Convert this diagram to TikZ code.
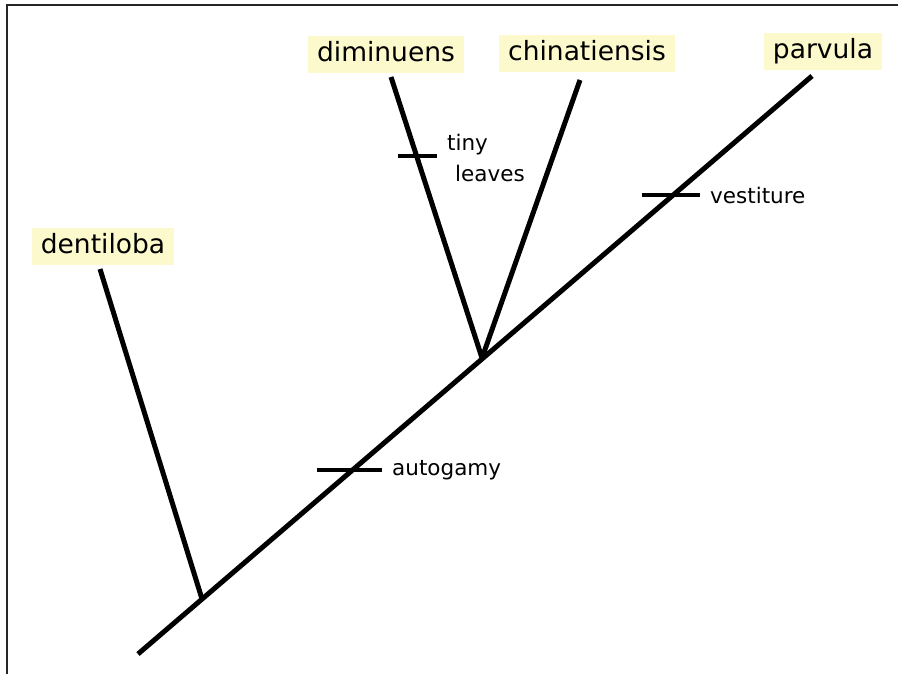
\documentclass[tikz,border=0pt]{standalone}
\usepackage{fontspec}
\setmainfont{DejaVu Sans}
\usetikzlibrary{positioning}
\definecolor{taxonfill}{HTML}{FCFACD}
\tikzset{
  taxon/.style={fill=taxonfill, font=\fontsize{26.5}{30}\selectfont, inner xsep=9pt, inner ysep=6pt, text height=19pt, text depth=6pt},
  branch/.style={line width=5pt},
  tickmark/.style={line width=4.5pt},
  trait/.style={font=\fontsize{21.5}{25}\selectfont, inner sep=0pt, anchor=west},
}

\begin{document}
\begin{tikzpicture}[x=1pt, y=-1pt]
                \useasboundingbox (0,0) rectangle (898,674);
                \draw[line width=2.2pt, black!85] (7,674) -- (7,5) -- (898,5);

                % taxa
                \node[taxon] (dentiloba) at (103,247) {dentiloba};
                \node[taxon] (diminuens) at (386,55) {diminuens};
                \node[taxon] (chinatiensis) at (587,54) {chinatiensis};
                \node[taxon] (parvula) at (823,52) {parvula};

                % branch ends and splits
                \coordinate (root) at (138,654);
                \coordinate (tipdent) at (100,269);
                \coordinate (tipdim) at (391,77);
                \coordinate (tipchin) at (580,80);
                \coordinate (tippar) at (812,76);
                \coordinate (splitdent) at (202,599);
                \coordinate (splitdim) at (482,358);

                \draw[branch] (root) -- (tippar);
                \draw[branch] (splitdent) -- (tipdent);
                \draw[branch] (splitdim) -- (tipdim);
                \draw[branch] (splitdim) -- (tipchin);

                % characters
                \draw[tickmark] (317,470) -- (382,470) coordinate (autoend);
                \draw[tickmark] (642,195) -- (700,195) coordinate (vestend);
                \draw[tickmark] (398,156) -- (437,156) coordinate (leafend);

                \node[trait, right=10pt of autoend] (autogamy) {autogamy};
                \node[trait, right=10pt of vestend] (vestiture) {vestiture};
                \node[trait] (tiny) at (447,145) {tiny};
                \node[trait] (leaves) at (455,173) {leaves};
            \end{tikzpicture}
\end{document}
